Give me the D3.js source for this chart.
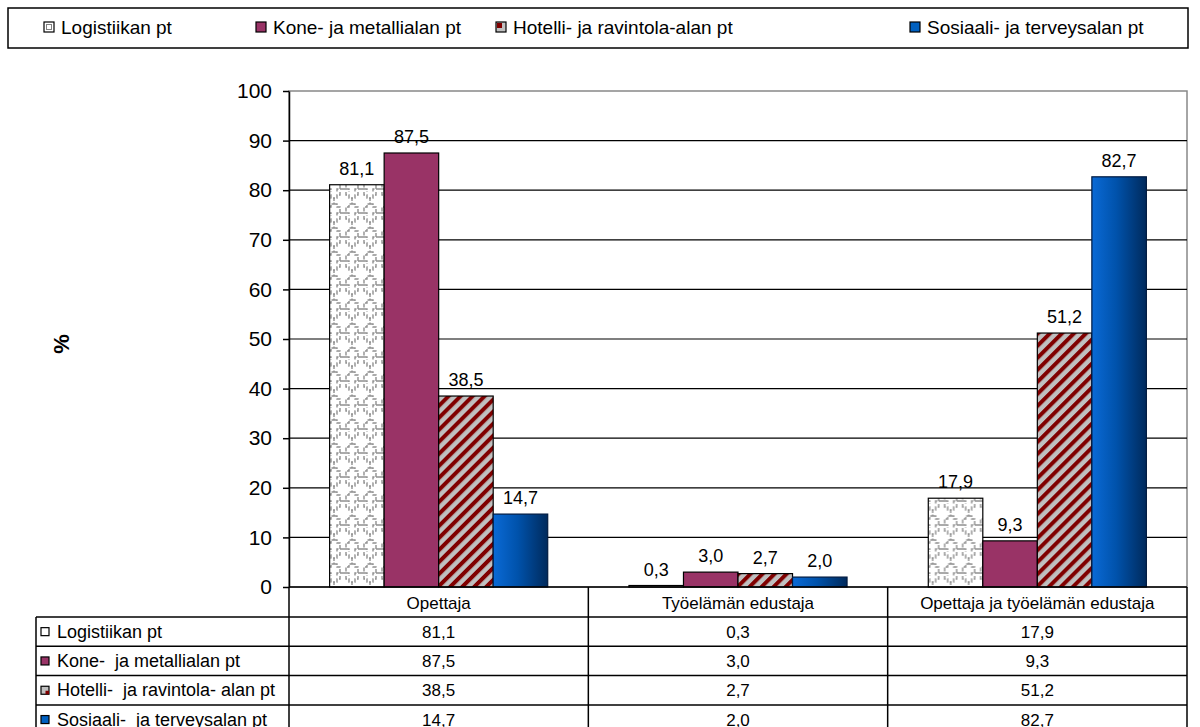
<!DOCTYPE html>
<html>
<head>
<meta charset="utf-8">
<script src="https://cdn.jsdelivr.net/npm/d3@7"></script>
<style>
  body { margin: 0; background: #fff; }
  svg { display: block; font-family: "Liberation Sans", Arial, sans-serif; }
  text { white-space: pre; }
</style>
</head>
<body>
<svg id="chart"></svg>
<script>
// data
var categories = ["Opettaja", "Työelämän edustaja", "Opettaja ja työelämän edustaja"];
var seriesNames = ["Logistiikan pt", "Kone- ja metallialan pt", "Hotelli- ja ravintola-alan pt", "Sosiaali- ja terveysalan pt"];
var tableNames = ["Logistiikan pt", "Kone-  ja metallialan pt", "Hotelli-  ja ravintola- alan pt", "Sosiaali-  ja terveysalan pt"];
var logistiikka = [81.1, 0.3, 17.9];
var kone = [87.5, 3.0, 9.3];
var hotelli = [38.5, 2.7, 51.2];
var sosiaali = [14.7, 2.0, 82.7];
var yTicks = [0, 10, 20, 30, 40, 50, 60, 70, 80, 90, 100];

var seriesValues = [logistiikka, kone, hotelli, sosiaali];

var width = 1200, height = 727;
var plot = { left: 289, right: 1187, top: 91, bottom: 587 };
var rowH = 29.3;

var svg = d3.select("#chart").attr("width", width).attr("height", height);
var defs = svg.append("defs");

// fills
var logiPat = defs.append("pattern").attr("id", "logi")
  .attr("patternUnits", "userSpaceOnUse").attr("width", 18).attr("height", 24);
logiPat.append("rect").attr("width", 18).attr("height", 24).attr("fill", "#fff");
logiPat.append("path")
  .attr("d", "M3,0 V3 H6 V6 H9 V12 H6 V15 H3 V21 H6 V24 M15,0 V3 H12 V6 H9 M9,12 H12 V15 H15 V21 H12 V24 M15,21 H18 M3,21 H0")
  .attr("fill", "none").attr("stroke", "#909090").attr("stroke-width", 1.4)
  .attr("stroke-dasharray", "4,1.5");

var hotPat = defs.append("pattern").attr("id", "hotel")
  .attr("patternUnits", "userSpaceOnUse").attr("width", 8.5).attr("height", 8.5)
  .attr("patternTransform", "rotate(45)");
hotPat.append("rect").attr("width", 8.5).attr("height", 8.5).attr("fill", "#c0c0c0");
hotPat.append("rect").attr("width", 4).attr("height", 8.5).attr("fill", "#800000");

var grad = defs.append("linearGradient").attr("id", "sosi")
  .attr("x1", "0%").attr("x2", "100%").attr("y1", "0%").attr("y2", "0%");
grad.append("stop").attr("offset", "0%").attr("stop-color", "#0a6ad6");
grad.append("stop").attr("offset", "45%").attr("stop-color", "#0052ab");
grad.append("stop").attr("offset", "100%").attr("stop-color", "#002a5c");

var fills = ["url(#logi)", "#993366", "url(#hotel)", "url(#sosi)"];
var strokes = ["#000", "#000", "#000", "#001a40"];
var keyFills = ["#fff", "#993366", "#c0c0c0", "#0060c0"];

var fmt = function(v) { return d3.format(".1f")(v).replace(".", ","); };

// scales
var x0 = d3.scaleBand().domain(categories).range([plot.left, plot.right]);
var x1 = d3.scaleBand().domain(seriesNames).range([0, x0.bandwidth()]).paddingOuter(0.745);
var y = d3.scaleLinear().domain([0, 100]).range([plot.bottom, plot.top]);

// plot area border and gridlines
svg.append("rect")
  .attr("x", plot.left).attr("y", plot.top)
  .attr("width", plot.right - plot.left).attr("height", plot.bottom - plot.top)
  .attr("fill", "#fff").attr("stroke", "#888").attr("stroke-width", 1.5);

svg.append("g").selectAll("line")
  .data(yTicks.filter(function(t) { return t > 0 && t < 100; }))
  .enter().append("line")
  .attr("x1", plot.left).attr("x2", plot.right)
  .attr("y1", function(t) { return y(t); }).attr("y2", function(t) { return y(t); })
  .attr("stroke", "#000").attr("stroke-width", 1.2);

// bars
var groups = svg.append("g").selectAll("g")
  .data(categories).enter().append("g")
  .attr("transform", function(c) { return "translate(" + x0(c) + ",0)"; });

groups.selectAll("rect")
  .data(function(c, ci) {
    return seriesNames.map(function(s, si) { return { s: s, si: si, v: seriesValues[si][ci] }; });
  })
  .enter().append("rect")
  .attr("x", function(d) { return x1(d.s); })
  .attr("y", function(d) { return y(d.v); })
  .attr("width", x1.bandwidth())
  .attr("height", function(d) { return y(0) - y(d.v); })
  .attr("fill", function(d) { return fills[d.si]; })
  .attr("stroke", function(d) { return strokes[d.si]; })
  .attr("stroke-width", 1.2);

groups.selectAll("text")
  .data(function(c, ci) {
    return seriesNames.map(function(s, si) { return { s: s, si: si, v: seriesValues[si][ci] }; });
  })
  .enter().append("text")
  .attr("x", function(d) { return x1(d.s) + x1.bandwidth() / 2; })
  .attr("y", function(d) { return y(d.v) - 10; })
  .attr("text-anchor", "middle")
  .attr("font-size", 18)
  .text(function(d) { return fmt(d.v); });

// y axis
var yAxis = svg.append("g")
  .attr("transform", "translate(" + plot.left + ",0)")
  .call(d3.axisLeft(y).tickValues(yTicks).tickSize(6).tickSizeOuter(0).tickPadding(11));
yAxis.select(".domain").attr("stroke", "#000").attr("stroke-width", 1.5);
yAxis.selectAll(".tick line").attr("stroke", "#000").attr("stroke-width", 1.5);
yAxis.selectAll(".tick text").attr("font-size", 21).attr("fill", "#000")
  .attr("font-family", "'Liberation Sans', Arial, sans-serif");

svg.append("text")
  .attr("transform", "translate(69,344) rotate(-90)")
  .attr("text-anchor", "middle")
  .attr("font-size", 22).attr("font-weight", "bold")
  .text("%");

// data table
var table = svg.append("g");
var rowTops = tableNames.map(function(n, i) { return plot.bottom + 30 + i * rowH; });

table.append("line")
  .attr("x1", plot.left).attr("x2", plot.right)
  .attr("y1", plot.bottom).attr("y2", plot.bottom)
  .attr("stroke", "#000").attr("stroke-width", 1.5);

table.selectAll(".hline").data(rowTops.concat([rowTops[3] + rowH])).enter().append("line")
  .attr("x1", 36).attr("x2", plot.right)
  .attr("y1", function(d) { return d; }).attr("y2", function(d) { return d; })
  .attr("stroke", "#000").attr("stroke-width", 1.5);

var vlines = [plot.left].concat(categories.map(function(c) { return x0(c) + x0.bandwidth(); }));
table.selectAll(".vline").data(vlines).enter().append("line")
  .attr("x1", function(d) { return d; }).attr("x2", function(d) { return d; })
  .attr("y1", plot.bottom).attr("y2", height)
  .attr("stroke", "#000").attr("stroke-width", 1.5);

table.append("line")
  .attr("x1", 36).attr("x2", 36)
  .attr("y1", rowTops[0]).attr("y2", height)
  .attr("stroke", "#000").attr("stroke-width", 1.5);

table.selectAll(".cat").data(categories).enter().append("text")
  .attr("x", function(c) { return x0(c) + x0.bandwidth() / 2; })
  .attr("y", plot.bottom + 22)
  .attr("text-anchor", "middle").attr("font-size", 17)
  .text(function(c) { return c; });

tableNames.forEach(function(name, si) {
  var top = rowTops[si];
  table.append("rect")
    .attr("x", 41).attr("y", top + rowH / 2 - 4).attr("width", 8).attr("height", 8)
    .attr("fill", keyFills[si]).attr("stroke", "#000").attr("stroke-width", 1.2);
  if (si === 2) {
    table.append("rect").attr("x", 45.5).attr("y", top + rowH / 2 + 0.5)
      .attr("width", 3.5).attr("height", 3.5).attr("fill", "#800000");
  }
  table.append("text")
    .attr("x", 57).attr("y", top + rowH / 2 + 6)
    .attr("font-size", 18)
    .text(name);
  table.selectAll(".val" + si).data(seriesValues[si]).enter().append("text")
    .attr("x", function(v, ci) { return x0(categories[ci]) + x0.bandwidth() / 2; })
    .attr("y", top + rowH / 2 + 6)
    .attr("text-anchor", "middle").attr("font-size", 17)
    .text(function(v) { return fmt(v); });
});

// legend
var legendX = [44, 256, 496, 910];
var legend = svg.append("g");
legend.append("rect")
  .attr("x", 8).attr("y", 8).attr("width", 1180).attr("height", 40)
  .attr("fill", "#fff").attr("stroke", "#000").attr("stroke-width", 1.5);

var items = legend.selectAll(".item").data(seriesNames).enter().append("g")
  .attr("transform", function(d, i) { return "translate(" + legendX[i] + ",22)"; });
items.append("rect")
  .attr("width", 10).attr("height", 10)
  .attr("fill", function(d, i) { return keyFills[i]; })
  .attr("stroke", "#000").attr("stroke-width", 1.2);
items.filter(function(d, i) { return i === 0; }).append("rect")
  .attr("x", 2.5).attr("y", 2.5).attr("width", 5).attr("height", 5)
  .attr("fill", "none").attr("stroke", "#808080").attr("stroke-width", 1);
items.filter(function(d, i) { return i === 2; }).append("rect")
  .attr("x", 1).attr("y", 1).attr("width", 5).attr("height", 5).attr("fill", "#800000");
items.append("text")
  .attr("x", 17).attr("y", 12)
  .attr("font-size", 19)
  .text(function(d) { return d; });
</script>
</body>
</html>
